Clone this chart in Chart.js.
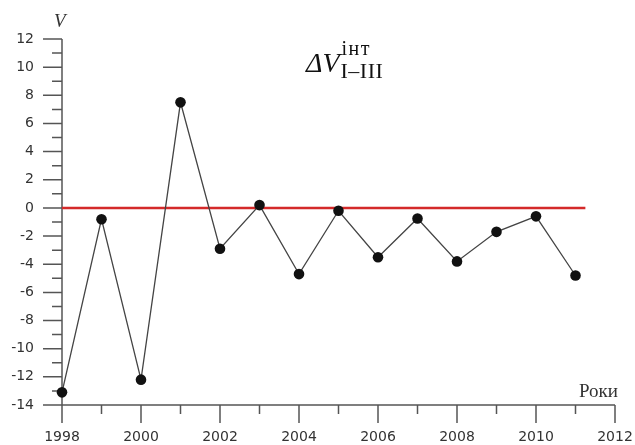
<!DOCTYPE html>
<html>
<head>
<meta charset="utf-8">
<script src="https://cdn.jsdelivr.net/npm/chart.js@4.4.0/dist/chart.umd.min.js"></script>
<style>
  html, body { margin: 0; padding: 0; background: #ffffff; }
  #wrap { width: 635px; height: 445px; }
</style>
</head>
<body>
<div id="wrap"><canvas id="c" width="635" height="445"></canvas></div>
<script>
// ---- data ----
const years = [1998, 1999, 2000, 2001, 2002, 2003, 2004, 2005, 2006, 2007, 2008, 2009, 2010, 2011];
const values = [-13.1, -0.8, -12.2, 7.5, -2.9, 0.2, -4.7, -0.2, -3.5, -0.75, -3.8, -1.7, -0.6, -4.8];
const refX = [1998, 2011.25];
const refY = [0, 0];
const xTickValues = [1998, 2000, 2002, 2004, 2006, 2008, 2010, 2012];
const yTickValues = [-14, -12, -10, -8, -6, -4, -2, 0, 2, 4, 6, 8, 10, 12];
const xLabel = 'Роки';
const yLabel = 'V';
const titleMain = 'ΔV';
const titleSup = 'інт';
const titleSub = 'I–III';

const AXIS = '#555555';
const SERIF = '"Liberation Serif", "Times New Roman", serif';

const axesPlugin = {
  id: 'axesPlugin',
  beforeDatasetsDraw(chart) {
    const { ctx, scales: { x, y } } = chart;
    const x0 = x.getPixelForValue(x.min);
    const x1 = x.getPixelForValue(x.max);
    const yTop = y.getPixelForValue(y.max);
    const y0 = y.getPixelForValue(y.min);
    ctx.save();
    ctx.strokeStyle = AXIS;
    ctx.lineWidth = 1.5;
    ctx.beginPath();
    ctx.moveTo(x0, yTop); ctx.lineTo(x0, y0 + 18);
    ctx.moveTo(x0 - 19, y0); ctx.lineTo(x1, y0);
    for (let v = y.min + 1; v <= y.max; v += 1) {
      const py = y.getPixelForValue(v);
      const len = (v % 2 === 0) ? 19 : 10;
      ctx.moveTo(x0 - len, py); ctx.lineTo(x0, py);
    }
    for (let v = x.min + 1; v <= x.max; v += 1) {
      const px = x.getPixelForValue(v);
      const len = (v % 2 === 0) ? 18 : 9;
      ctx.moveTo(px, y0); ctx.lineTo(px, y0 + len);
    }
    ctx.stroke();

    // axis titles
    ctx.fillStyle = '#333333';
    ctx.font = 'italic 19px ' + SERIF;
    ctx.textAlign = 'left';
    ctx.textBaseline = 'alphabetic';
    ctx.fillText(yLabel, 54, 27);
    ctx.font = '19px ' + SERIF;
    ctx.textAlign = 'right';
    ctx.fillText(xLabel, 618, 397);

    // chart title
    ctx.fillStyle = '#111111';
    ctx.textAlign = 'left';
    ctx.font = 'italic 28px ' + SERIF;
    const tx = 306;
    ctx.fillText(titleMain, tx, 72);
    const w = ctx.measureText(titleMain).width;
    ctx.font = '20px ' + SERIF;
    ctx.letterSpacing = '1.5px';
    ctx.fillText(titleSup, tx + w + 2, 55);
    ctx.letterSpacing = '0.5px';
    ctx.font = '22px ' + SERIF;
    ctx.fillText(titleSub, tx + w + 1, 78);
    ctx.letterSpacing = '0px';
    ctx.restore();
  }
};

const tickFont = { family: '"DejaVu Sans", sans-serif', size: 14 };

new Chart(document.getElementById('c'), {
  type: 'line',
  data: {
    datasets: [
      {
        data: years.map((yr, i) => ({ x: yr, y: values[i] })),
        borderColor: '#444444',
        borderWidth: 1.3,
        pointRadius: 5.3,
        pointBackgroundColor: '#111111',
        pointBorderColor: '#111111',
        pointBorderWidth: 0,
        tension: 0,
        clip: false,
        order: 1
      },
      {
        data: refX.map((xv, i) => ({ x: xv, y: refY[i] })),
        borderColor: '#d42a2a',
        borderWidth: 2.5,
        pointRadius: 0,
        tension: 0,
        clip: false,
        order: 2
      }
    ]
  },
  options: {
    responsive: false,
    animation: false,
    events: [],
    layout: { padding: { left: 0, right: 20, top: 39, bottom: 0 } },
    plugins: { legend: { display: false }, tooltip: { enabled: false }, title: { display: false } },
    scales: {
      x: {
        type: 'linear',
        min: 1998, max: 2012,
        grid: { display: false, drawTicks: false },
        border: { display: false },
        afterFit(s) { s.height = 40; s.paddingLeft = 0; s.paddingRight = 0; },
        afterBuildTicks(s) { s.ticks = xTickValues.map(v => ({ value: v })); },
        ticks: {
          padding: 24,
          color: '#333333',
          font: tickFont,
          maxRotation: 0,
          autoSkip: false,
          callback: v => String(v)
        }
      },
      y: {
        type: 'linear',
        min: -14, max: 12,
        grid: { display: false, drawTicks: false },
        border: { display: false },
        afterFit(s) { s.width = 62; s.paddingTop = 0; s.paddingBottom = 0; },
        afterBuildTicks(s) { s.ticks = yTickValues.map(v => ({ value: v })); },
        ticks: {
          padding: 28,
          color: '#333333',
          font: tickFont,
          autoSkip: false,
          callback: v => String(v)
        }
      }
    }
  },
  plugins: [axesPlugin]
});
</script>
</body>
</html>
